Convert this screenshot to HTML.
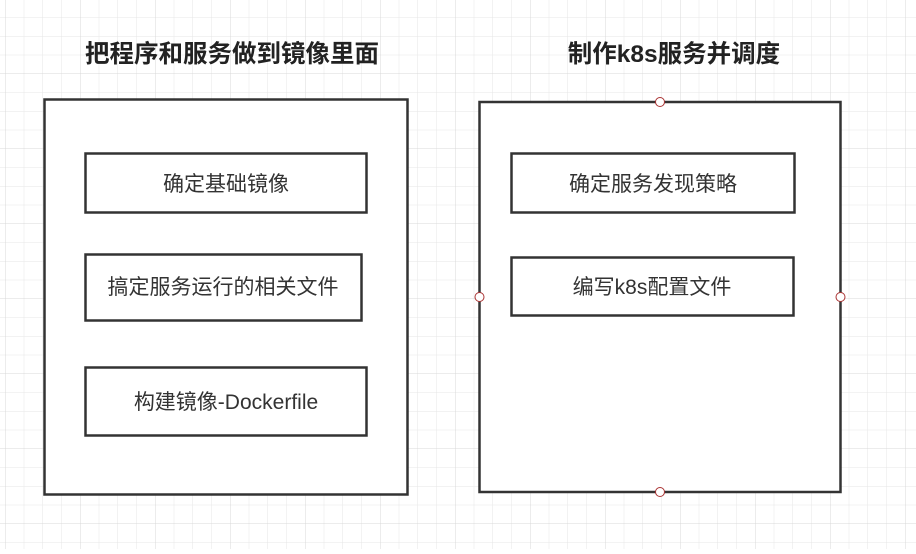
<!DOCTYPE html>
<html><head><meta charset="utf-8"><style>
body{margin:0;width:916px;height:549px;overflow:hidden;background:#fff;font-family:"Liberation Sans","Noto Sans CJK SC",sans-serif}
</style></head><body>
<svg width="916" height="549" xmlns="http://www.w3.org/2000/svg">
<defs>
<pattern id="g" x="5" y="-1.5" width="18.75" height="18.75" patternUnits="userSpaceOnUse">
<path d="M0 0V18.75M0 0H18.75" stroke="#e6e6e6" stroke-width="1" fill="none"/>
</pattern>
<pattern id="G" x="5" y="-1.5" width="75" height="75" patternUnits="userSpaceOnUse">
<path d="M0 0V75M0 0H75" stroke="#d8d8d8" stroke-width="1" fill="none"/>
</pattern>
</defs>
<rect width="916" height="549" fill="url(#g)"/>
<rect width="916" height="549" fill="url(#G)"/>
<g font-family="Liberation Sans, Noto Sans CJK SC, sans-serif" text-anchor="middle">
<text x="232" y="62" font-size="24.5" font-weight="bold" fill="#222">把程序和服务做到镜像里面</text>
<text x="674" y="62" font-size="24.5" font-weight="bold" fill="#222">制作k8s服务并调度</text>
<g fill="#fff" stroke="#333" stroke-width="2.5">
<rect x="44.5" y="99.5" width="363" height="395"/>
<rect x="479.5" y="102" width="361" height="390"/>
<rect x="85.5" y="153.5" width="281" height="59"/>
<rect x="85.5" y="254.5" width="276" height="66"/>
<rect x="85.5" y="367.5" width="281" height="68"/>
<rect x="511.5" y="153.5" width="283" height="59"/>
<rect x="511.5" y="257.5" width="282" height="58"/>
</g>
<g fill="#fff" stroke="#a33" stroke-width="1">
<circle cx="660" cy="102" r="4.5"/><circle cx="660" cy="492" r="4.5"/>
<circle cx="479.5" cy="297" r="4.5"/><circle cx="840.5" cy="297" r="4.5"/>
</g>
<g font-size="21" fill="#333">
<text x="226" y="191">确定基础镜像</text>
<text x="223" y="294">搞定服务运行的相关文件</text>
<text x="226" y="409">构建镜像-Dockerfile</text>
<text x="653" y="191">确定服务发现策略</text>
<text x="652" y="294">编写k8s配置文件</text>
</g>
</g>
</svg>
</body></html>
